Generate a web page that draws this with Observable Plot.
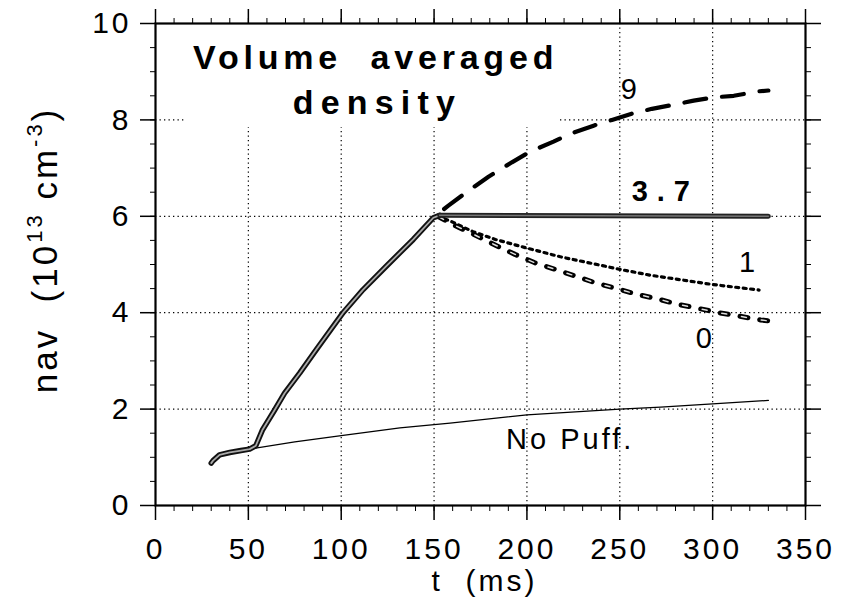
<!DOCTYPE html>
<html>
<head>
<meta charset="utf-8">
<script src="https://cdn.jsdelivr.net/npm/d3@7"></script>
<script src="https://cdn.jsdelivr.net/npm/@observablehq/plot@0.6"></script>
<style>
  html, body { margin: 0; padding: 0; background: #fff; }
  svg text { letter-spacing: 3px; white-space: pre; }
</style>
</head>
<body>
<div id="chart"></div>
<script>
// ---- data (t in ms, nav in 1e13 cm^-3) ----
const riseT = [30, 31, 34.5, 40, 46, 50.7, 54, 57.5, 64, 69.5, 77.7, 86.7, 101, 111.8, 124.4, 138.8, 149.6, 153];
const riseV = [0.88, 0.93, 1.05, 1.10, 1.14, 1.17, 1.24, 1.56, 1.97, 2.33, 2.75, 3.24, 4.0, 4.48, 4.97, 5.52, 5.97, 6.02];

const flatT = [153, 330];
const flatV = [6.02, 6.0];

const puff9T = [152, 157.7, 168.5, 179.3, 191.9, 201.7, 214.3, 223.3, 235.9, 245.8, 257.4, 267.3, 279.9, 289.8, 301.5, 311.4, 324, 330];
const puff9V = [6.05, 6.22, 6.53, 6.82, 7.12, 7.34, 7.55, 7.71, 7.88, 8.0, 8.14, 8.23, 8.32, 8.40, 8.47, 8.50, 8.59, 8.61];

const puff1T = [152, 160, 171, 183, 200, 218, 250, 266, 299, 325];
const puff1V = [6.0, 5.88, 5.68, 5.52, 5.34, 5.16, 4.9, 4.78, 4.59, 4.47];

const puff0T = [152, 159.5, 171, 182, 193.6, 204, 216, 226.9, 236.8, 248.5, 259.3, 270, 281.7, 293.4, 303.3, 314, 325.8, 330];
const puff0V = [6.0, 5.84, 5.63, 5.42, 5.21, 5.04, 4.89, 4.75, 4.62, 4.50, 4.38, 4.29, 4.17, 4.08, 4.0, 3.93, 3.85, 3.83];

const noPuffT = [52, 75, 100, 131.6, 158.6, 200, 250, 272, 300, 330];
const noPuffV = [1.18, 1.32, 1.45, 1.61, 1.71, 1.88, 2.0, 2.04, 2.11, 2.18];

const labelText = ["9", "1", "0", "No Puff."];
const labelT = [255.7, 319.3, 296, 223.3];
const labelV = [8.62, 5.04, 3.46, 1.37];

const boldLabelText = ["3.7"];
const boldLabelT = [274.5];
const boldLabelV = [6.51];

const titleLines = ["Volume  averaged", "density"];
const titleT = [118.5, 119.5];
const titleV = [9.06, 8.13];
const titleBox = {t1: 15.6, t2: 216.8, v1: 7.84, v2: 10};

const xMajor = [0, 50, 100, 150, 200, 250, 300, 350];
const xMinor = d3.range(0, 351, 10);
const yMajor = [0, 2, 4, 6, 8, 10];
const yMinor = d3.range(0, 10.01, 0.5);
const xGrid = [50, 100, 150, 200, 250, 300];
const yGrid = [2, 4, 6, 8];

const xTitle = "t  (ms)";

// ---- build tables ----
const zip = (T, V) => T.map((t, i) => ({t, v: V[i]}));
const rise = zip(riseT, riseV);
const flat = zip(flatT, flatV);
const p9 = zip(puff9T, puff9V);
const p1 = zip(puff1T, puff1V);
const p0 = zip(puff0T, puff0V);
const np = zip(noPuffT, noPuffV);
const labels = labelText.map((s, i) => ({s, t: labelT[i], v: labelV[i]}));
const boldLabels = boldLabelText.map((s, i) => ({s, t: boldLabelT[i], v: boldLabelV[i]}));
const titles = titleLines.map((s, i) => ({s, t: titleT[i], v: titleV[i]}));

const font = "'Liberation Sans', Arial, Helvetica, sans-serif";

const chart = Plot.plot({
  width: 841,
  height: 605,
  marginLeft: 155,
  marginRight: 36,
  marginTop: 23,
  marginBottom: 100,
  x: {domain: [0, 350]},
  y: {domain: [0, 10]},
  style: {fontFamily: font, fontSize: "30px", color: "black", background: "white"},
  marks: [
    Plot.gridX(xGrid, {stroke: "black", strokeOpacity: 1, strokeWidth: 1.2, strokeDasharray: "1.3,3.2"}),
    Plot.gridY(yGrid, {stroke: "black", strokeOpacity: 1, strokeWidth: 1.2, strokeDasharray: "1.3,3.2"}),
    Plot.rect([titleBox], {x1: "t1", x2: "t2", y1: "v1", y2: "v2", fill: "white"}),
    // minor ticks (all four sides)
    Plot.axisX(xMinor, {anchor: "bottom", tickSize: 6, tickFormat: () => "", label: null}),
    Plot.axisX(xMinor, {anchor: "top", tickSize: 6, tickFormat: () => "", label: null}),
    Plot.axisY(yMinor, {anchor: "left", tickSize: 5, tickFormat: () => "", label: null}),
    Plot.axisY(yMinor, {anchor: "right", tickSize: 5, tickFormat: () => "", label: null}),
    // major ticks and labels
    Plot.axisX(xMajor, {anchor: "bottom", tickSize: 15, tickPadding: 17, strokeWidth: 1.5, label: null, fontSize: 30}),
    Plot.axisX(xMajor, {anchor: "top", tickSize: 15, tickFormat: () => "", strokeWidth: 1.5, label: null}),
    Plot.axisY(yMajor, {anchor: "left", tickSize: 15, tickPadding: 9, strokeWidth: 1.5, label: null, fontSize: 30}),
    Plot.axisY(yMajor, {anchor: "right", tickSize: 15, tickFormat: () => "", strokeWidth: 1.5, label: null}),
    Plot.frame({stroke: "black", strokeWidth: 2.2}),
    // no puff
    Plot.line(np, {x: "t", y: "v", stroke: "black", strokeWidth: 1.3}),
    // 9 : long dashes
    Plot.line(p9, {x: "t", y: "v", stroke: "black", strokeWidth: 4.2, strokeDasharray: "22,16", strokeDashoffset: -8, strokeLinecap: "round"}),
    // 1 : dotted
    Plot.line(p1, {x: "t", y: "v", stroke: "black", strokeWidth: 3.2, strokeDasharray: "3,4.5"}),
    // 0 : hollow short dashes
    Plot.line(p0, {x: "t", y: "v", stroke: "black", strokeWidth: 5, strokeDasharray: "8,12"}),
    Plot.line(p0, {x: "t", y: "v", stroke: "#ddd", strokeWidth: 1.5, strokeDasharray: "5,15", strokeDashoffset: -1.5}),
    // main rise + 3.7 (hollow thick)
    Plot.line(rise, {x: "t", y: "v", stroke: "#111", strokeWidth: 5.5, strokeLinejoin: "round", strokeLinecap: "round"}),
    Plot.line(rise, {x: "t", y: "v", stroke: "#aaa", strokeWidth: 1.8, strokeLinejoin: "round", strokeLinecap: "round"}),
    Plot.line(flat, {x: "t", y: "v", stroke: "#222", strokeWidth: 5, strokeLinejoin: "round"}),
    Plot.line(flat, {x: "t", y: "v", stroke: "#777", strokeWidth: 1.5}),
    // labels
    Plot.text(labels, {x: "t", y: "v", text: "s", fontSize: 29, textAnchor: "middle", lineAnchor: "middle", fill: "black"}),
    Plot.text(boldLabels, {x: "t", y: "v", text: "s", fontSize: 29, fontWeight: "bold", textAnchor: "middle", lineAnchor: "middle", fill: "black"}),
    Plot.text(titles, {x: "t", y: "v", text: "s", fontSize: 34, fontWeight: "bold", textAnchor: "middle", lineAnchor: "bottom", fill: "black"}),
    Plot.text([xTitle], {frameAnchor: "bottom", text: d => d, fontSize: 30, dy: 76, dx: 4, lineAnchor: "middle", fill: "black"})
  ]
});

// letter spacing for the wide-set labels
const spacing = {"Volume  averaged": "4.8px", "density": "7.2px", "3.7": "9px"};
d3.select(chart).selectAll("text").each(function() {
  const s = spacing[this.textContent];
  if (s) this.style.letterSpacing = s;
});

// y-axis title with superscripts
const yt = d3.select(chart).append("text")
  .attr("transform", "translate(57,250) rotate(-90)")
  .attr("text-anchor", "middle")
  .attr("fill", "black")
  .style("font-family", font)
  .style("font-size", "35px")
  .style("letter-spacing", "3px");
yt.append("tspan").text("nav  (10");
yt.append("tspan").attr("dy", -15).style("font-size", "22px").text("13");
yt.append("tspan").attr("dy", 15).text(" cm");
yt.append("tspan").attr("dy", -15).style("font-size", "22px").text("-3");
yt.append("tspan").attr("dy", 15).text(")");

document.getElementById("chart").appendChild(chart);
</script>
</body>
</html>
